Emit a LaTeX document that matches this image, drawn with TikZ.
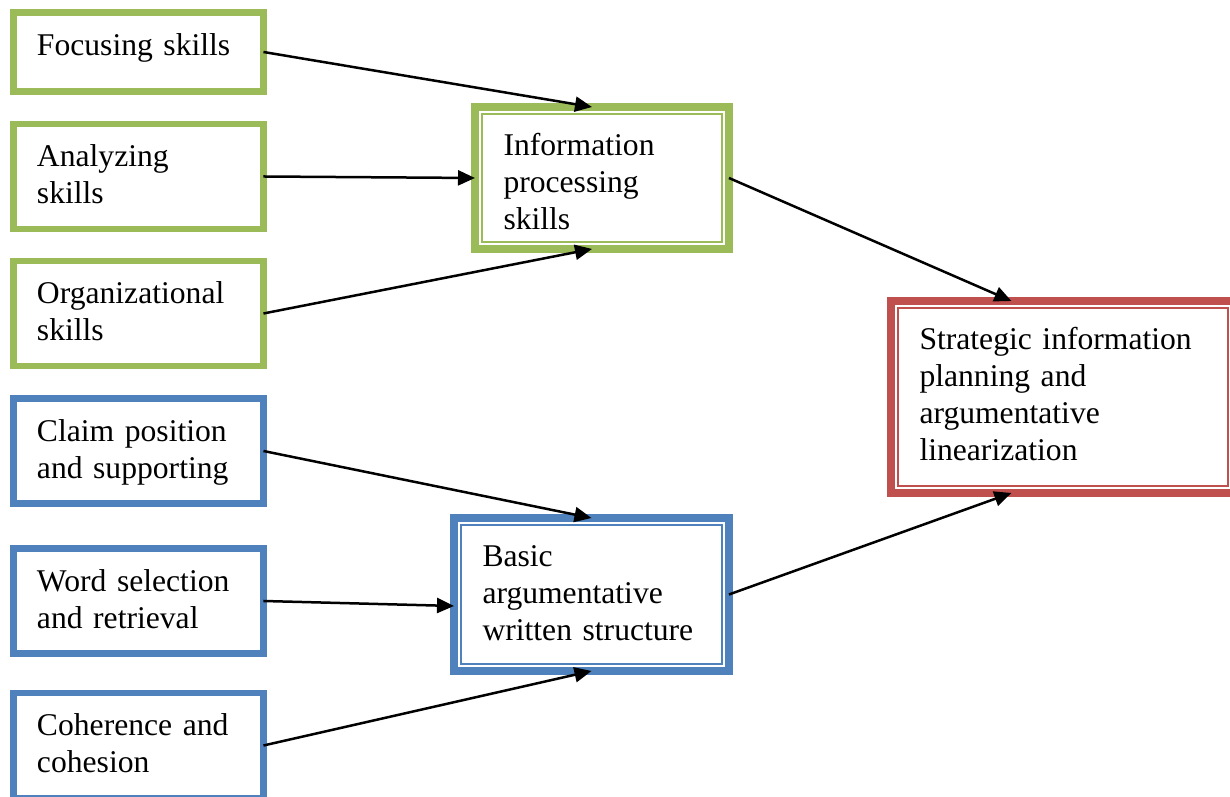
\documentclass[tikz,border=0pt]{standalone}
\usepackage{fontspec}
\setmainfont{Liberation Serif}
\usetikzlibrary{arrows.meta, calc}

\definecolor{skillgreen}{HTML}{9BBB59}
\definecolor{skillblue}{HTML}{4F81BD}
\definecolor{planred}{HTML}{C0504D}

\tikzset{
	skill/.style={draw=#1, line width=0.13cm, rectangle, anchor=north west, outer sep=0pt,
		inner xsep=0.47cm, inner ysep=0pt, text width=4.06cm, align=left,
		text height=0.86cm, text depth=1.24cm, font=\fontsize{18}{21}\selectfont},
	stage/.style={draw=#1, line width=0.16cm, rectangle, anchor=north west, outer sep=0pt,
		inner xsep=0.57cm, inner ysep=0pt, align=left, text height=0.98cm,
		font=\fontsize{18}{21}\selectfont,
		path picture={\draw[#1, line width=0.04cm]
			([shift={(0.14cm,-0.14cm)}]path picture bounding box.north west) rectangle
			([shift={(-0.14cm,0.14cm)}]path picture bounding box.south east);}},
	link/.style={-{Triangle[length=0.34cm, width=0.3cm]}, line width=0.05cm}
}

\begin{document}
\begin{tikzpicture}[x=0.02cm, y=-0.02cm]
	\useasboundingbox (0,0) rectangle (1230,797);
	\clip (0,0) rectangle (1230,797);

	% skills on the left
	\node[skill=skillgreen, text depth=0.72cm] (focus) at (13.5,12.5) {Focusing skills};
	\node[skill=skillgreen] (analyze) at (13.5,124) {Analyzing\\skills};
	\node[skill=skillgreen] (organize) at (13.5,261) {Organizational\\skills};
	\node[skill=skillblue] (claim) at (13.5,398.5) {Claim position\\and supporting};
	\node[skill=skillblue] (word) at (13.5,548.5) {Word selection\\and retrieval};
	\node[skill=skillblue] (cohere) at (13.5,693) {Coherence and\\cohesion};

	% stages
	\node[stage=skillgreen, text width=3.94cm, text depth=1.86cm] (info) at (475,107) {Information\\processing\\skills};
	\node[stage=skillblue, text width=4.36cm, text depth=2.08cm] (basic) at (454,518) {Basic\\argumentative\\written structure};
	\node[stage=planred, text width=5.74cm, text depth=2.86cm] (plan) at (891,301) {Strategic information\\planning and\\argumentative\\linearization};

	\draw[link] (focus.east) -- ([xshift=-0.2cm]info.north);
	\draw[link] (analyze.east) -- (info.west);
	\draw[link] (organize.east) -- ([xshift=-0.2cm]info.south);
	\draw[link] (claim.east) -- (basic.north);
	\draw[link] (word.east) -- ([yshift=-0.23cm]basic.west);
	\draw[link] (cohere.east) -- (basic.south);
	\draw[link] (info.east) -- ($(plan.north west)!0.35!(plan.north east)$);
	\draw[link] (basic.east) -- ($(plan.south west)!0.35!(plan.south east)$);
\end{tikzpicture}
\end{document}
